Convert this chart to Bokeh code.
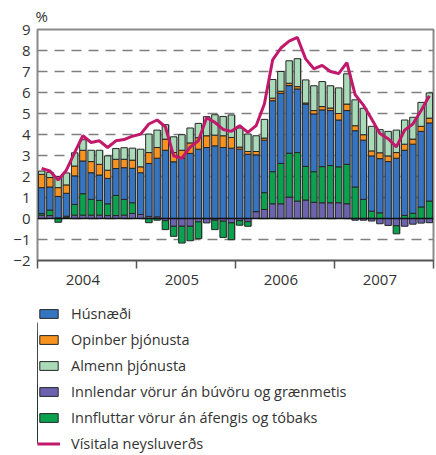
import numpy as np
import pandas as pd
from bokeh.plotting import figure
from bokeh.layouts import column
from bokeh.models import ColumnDataSource, FixedTicker, Legend, LegendItem, Span, Range1d
from bokeh.transform import dodge
from bokeh.embed import file_html
from bokeh.resources import INLINE

# ---- data (monthly, Jan 2004 - Dec 2007) ----
YEARS = ["2004", "2005", "2006", "2007"]
Y_TICKS = [-2, -1, 0, 1, 2, 3, 4, 5, 6, 7, 8, 9]
UNIT = "%"

innlendar = [0.16, 0.14, 0.03, 0.04, 0.16, 0.16, 0.16, 0.16, 0.14, 0.14, 0.16, 0.24,
             0.19, 0.10, 0.08, -0.10, -0.37, -0.37, -0.37, -0.16, -0.21, -0.08, -0.13, -0.21,
             -0.10, -0.15, 0.33, 0.43, 0.70, 0.70, 1.02, 0.83, 0.88, 0.77, 0.75, 0.75,
             0.75, 0.70, -0.08, -0.08, -0.12, -0.25, -0.33, -0.35, -0.37, -0.27, -0.22, -0.20]
innfluttar = [0.08, 0.26, -0.18, 0.07, 0.51, 1.02, 0.75, 0.70, 0.56, 0.96, 0.75, 0.51,
              0.00, -0.20, -0.08, -0.43, -0.48, -0.80, -0.69, -0.80, 0.00, -0.45, -0.77, -0.80,
              -0.22, -0.22, 0.00, 0.80, 1.53, 1.92, 2.09, 2.31, 1.60, 1.46, 1.72, 1.77,
              1.71, 1.88, 1.50, 0.91, 0.35, 0.27, 0.00, -0.38, 0.15, 0.25, 0.55, 0.83]
husnaedi = [1.23, 1.10, 1.02, 1.09, 1.36, 1.56, 1.27, 1.21, 1.21, 1.28, 1.51, 1.64,
            1.99, 2.52, 2.79, 3.25, 2.70, 2.87, 3.10, 3.30, 3.38, 3.46, 3.38, 3.35,
            3.30, 3.06, 2.70, 2.50, 3.38, 3.34, 3.22, 3.03, 2.97, 2.75, 2.70, 2.62,
            2.23, 2.56, 2.68, 2.82, 2.63, 2.58, 2.71, 2.87, 3.10, 3.29, 3.60, 3.72]
opinber = [0.63, 0.45, 0.42, 0.40, 0.47, 0.51, 0.53, 0.51, 0.39, 0.44, 0.40, 0.39,
           0.28, 0.52, 0.51, 0.53, 0.44, 0.38, 0.50, 0.55, 0.56, 0.51, 0.56, 0.51,
           0.10, 0.13, 0.16, 0.10, 0.12, 0.10, 0.11, 0.11, 0.05, 0.16, 0.16, 0.12,
           0.31, 0.31, 0.24, 0.26, 0.24, 0.28, 0.27, 0.27, 0.29, 0.24, 0.24, 0.23]
almenn = [0.16, 0.25, 0.53, 0.57, 0.63, 0.50, 0.54, 0.67, 0.68, 0.51, 0.55, 0.57,
          0.84, 0.88, 0.83, 0.69, 0.75, 0.74, 0.71, 0.68, 0.91, 0.97, 0.92, 1.07,
          0.91, 0.83, 0.75, 0.89, 0.89, 0.94, 1.07, 1.33, 1.10, 1.18, 1.19, 1.06,
          1.22, 1.44, 1.23, 1.26, 1.17, 1.10, 1.17, 1.07, 1.15, 1.04, 1.14, 1.20]
visitala = [2.39, 2.26, 1.83, 2.30, 3.14, 3.94, 3.62, 3.70, 3.38, 3.70, 3.76, 3.92,
            4.02, 4.50, 4.69, 4.37, 2.98, 2.87, 3.40, 3.70, 4.80, 4.58, 4.24, 4.15,
            4.42, 4.10, 4.42, 5.45, 7.55, 8.12, 8.45, 8.62, 7.60, 7.13, 7.29, 7.00,
            6.90, 7.42, 5.90, 5.40, 4.74, 4.05, 3.80, 3.41, 4.21, 4.50, 5.14, 5.85]

SERIES = [
    ("innlendar", "Innlendar vörur án búvöru og grænmetis", "#6b63b0"),
    ("innfluttar", "Innfluttar vörur án áfengis og tóbaks", "#0aa14f"),
    ("husnaedi", "Húsnæði", "#3574c0"),
    ("opinber", "Opinber þjónusta", "#f7931e"),
    ("almenn", "Almenn þjónusta", "#a9dbb8"),
]
LEGEND_ORDER = ["husnaedi", "opinber", "almenn", "innlendar", "innfluttar"]
LINE_LABEL = "Vísitala neysluverðs"
LINE_COLOR = "#c2186b"
BAR_LINE = "#262626"

data = {"innlendar": innlendar, "innfluttar": innfluttar, "husnaedi": husnaedi,
        "opinber": opinber, "almenn": almenn}
n = len(visitala)
df = pd.DataFrame({"x": np.arange(n), "visitala": visitala})
pos = np.zeros(n)
neg = np.zeros(n)
for key, _, _ in SERIES:
    v = np.array(data[key], dtype=float)
    bottom = np.where(v >= 0, pos, neg)
    top = bottom + v
    pos = np.where(v >= 0, top, pos)
    neg = np.where(v < 0, top, neg)
    df[key + "_b"] = bottom
    df[key + "_t"] = top
df["pos_total"] = pos
df["neg_total"] = neg
src = ColumnDataSource(df)

FONT = "Open Sans"
TXT = "#333333"

p = figure(width=436, height=290, output_backend="svg", toolbar_location=None,
           x_range=Range1d(-0.5, n - 0.5), y_range=Range1d(Y_TICKS[0], Y_TICKS[-1]),
           min_border_left=37, min_border_right=3, min_border_top=29, min_border_bottom=30)
p.background_fill_color = "white"
p.border_fill_color = "white"
p.outline_line_color = "#8a8a8a"
p.outline_line_width = 2

# unit label "%" above the y axis (as a title so it is not clipped)
p.title.text = UNIT
p.title.align = "left"
p.title.offset = -2
p.title.standoff = 7
p.title.text_font = FONT
p.title.text_font_size = "15px"
p.title.text_font_style = "normal"
p.title.text_color = TXT

# grid
p.xgrid.grid_line_color = None
p.ygrid.ticker = FixedTicker(ticks=Y_TICKS)
p.ygrid.grid_line_color = "#7f7f7f"
p.ygrid.grid_line_width = 1.6
p.ygrid.grid_line_dash = "10 7"

# y axis
p.yaxis.ticker = FixedTicker(ticks=Y_TICKS)
p.yaxis.axis_line_color = None
p.yaxis.major_tick_out = 0
p.yaxis.major_tick_in = 0
p.yaxis.minor_tick_out = 0
p.yaxis.minor_tick_in = 0
p.yaxis.major_label_standoff = 7
p.yaxis.major_label_text_font = FONT
p.yaxis.major_label_text_font_size = "15px"
p.yaxis.major_label_text_color = TXT

# x axis: year boundary ticks + year labels
label_ticks = [12 * k + 5 for k in range(len(YEARS))]
bound_ticks = [12 * k - 0.5 for k in range(len(YEARS) + 1)]
p.xaxis.ticker = FixedTicker(ticks=label_ticks, minor_ticks=bound_ticks)
p.xaxis.major_label_overrides = {t: y for t, y in zip(label_ticks, YEARS)}
p.xaxis.major_tick_out = 0
p.xaxis.major_tick_in = 0
p.xaxis.minor_tick_out = 8
p.xaxis.minor_tick_in = 0
p.xaxis.minor_tick_line_color = "#555555"
p.xaxis.minor_tick_line_width = 1.5
p.xaxis.axis_line_color = "#555555"
p.xaxis.axis_line_width = 1.5
p.xaxis.major_label_standoff = 6
p.xaxis.major_label_text_font = FONT
p.xaxis.major_label_text_font_size = "15px"
p.xaxis.major_label_text_color = TXT

W = 0.78
# drop shadow
p.vbar(x=dodge("x", 0.17, range=p.x_range), top="pos_total", bottom="neg_total", width=W,
       source=src, fill_color="#a0a0a0", fill_alpha=0.6, line_color=None)

for key, label, color in SERIES:
    p.vbar(x="x", top=key + "_t", bottom=key + "_b", width=W, source=src,
           fill_color=color, line_color=BAR_LINE, line_width=1)

p.add_layout(Span(location=0, dimension="width", line_color="#111111", line_width=1.5))

p.line(x="x", y="visitala", source=src, line_color=LINE_COLOR, line_width=3)

# ---- legend panel (separate figure below the chart) ----
# The legend figure re-uses the chart data; its view range lies away from the
# data so only the legend swatches are visible.
lf = figure(width=436, height=165, output_backend="svg", toolbar_location=None,
            x_range=Range1d(n + 100, n + 101), y_range=Range1d(Y_TICKS[0], Y_TICKS[-1]),
            x_axis_type=None, y_axis_type=None,
            min_border_left=36, min_border_right=0, min_border_top=13, min_border_bottom=0)
lf.outline_line_color = None
lf.grid.visible = False
lf.background_fill_color = "white"
lf.border_fill_color = "white"

label_of = {k: (lab, col) for k, lab, col in SERIES}
items = []
for k in LEGEND_ORDER:
    lab, col = label_of[k]
    r = lf.vbar(x="x", top=k + "_t", bottom=k + "_b", width=W, source=src,
                fill_color=col, line_color=BAR_LINE, line_width=1)
    items.append(LegendItem(label=lab, renderers=[r]))
rl = lf.line(x="x", y="visitala", source=src, line_color=LINE_COLOR, line_width=3)
items.append(LegendItem(label=LINE_LABEL, renderers=[rl]))

legend = Legend(items=items, location="top_left", orientation="vertical",
                padding=0, margin=0, border_line_color=None, background_fill_alpha=0,
                glyph_width=23, glyph_height=11, label_standoff=11, label_height=20,
                spacing=6, label_text_font=FONT, label_text_font_size="14.5px",
                label_text_color=TXT)
lf.add_layout(legend, "center")

layout = column(p, lf, spacing=0)
open("out.html", "w").write(file_html(layout, INLINE))
